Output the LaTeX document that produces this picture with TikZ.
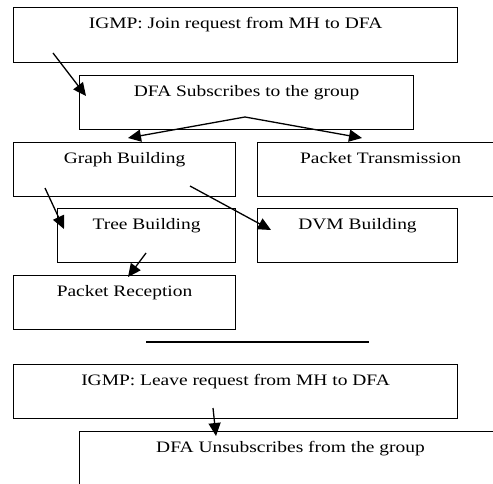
\documentclass[tikz,border=0pt]{standalone}
\usepackage{fontspec}
\setmainfont[FakeStretch=1.22]{Liberation Serif}
\usetikzlibrary{arrows.meta}

\begin{document}
\begin{tikzpicture}[x=1bp, y=-1bp,
	stage/.style={draw, line width=1.1bp, inner xsep=0pt, inner ysep=0pt, anchor=north west,
		text height=20.5bp, text depth=33.5bp, font=\fontsize{16}{18}\selectfont},
	flow/.style={-{Triangle[length=13bp,width=12bp]}, line width=1.3bp}]
	\useasboundingbox (0,0) rectangle (493,484);
	\clip (0,0) rectangle (493,484);
	\node[stage, minimum width=444bp, text depth=34.5bp] (join) at (13,7) {IGMP: Join request from MH to DFA};
	\node[stage, minimum width=334bp] (subscribe) at (79,75) {DFA Subscribes to the group};
	\node[stage, minimum width=222bp] (graph) at (13,142) {Graph Building};
	\node[stage, minimum width=246bp] (transmit) at (257,142) {Packet Transmission};
	\node[stage, minimum width=178bp] (tree) at (57,208) {Tree Building};
	\node[stage, minimum width=200bp] (dvm) at (257,208) {DVM Building};
	\node[stage, minimum width=222bp] (reception) at (13,275) {Packet Reception};
	\draw[line width=1.4bp] (146,342) -- (369,342);
	\node[stage, minimum width=444bp] (leave) at (13,364) {IGMP: Leave request from MH to DFA};
	\node[stage, minimum width=422bp, text depth=36bp] (unsub) at (79,431) {DFA Unsubscribes from the group};
	\draw[flow] ([shift={(40,46)}]join.north west) -- ([shift={(7,21)}]subscribe.north west);
	\draw[flow] ([shift={(166,42)}]subscribe.north west) -- ([shift={(115,-4)}]graph.north west);
	\draw[flow] ([shift={(166,42)}]subscribe.north west) -- ([shift={(105,-4)}]transmit.north west);
	\draw[flow] ([shift={(32,46)}]graph.north west) -- ([shift={(7,21)}]tree.north west);
	\draw[flow] ([shift={(177,44)}]graph.north west) -- ([shift={(14,22)}]dvm.north west);
	\draw[flow] ([shift={(89,45)}]tree.north west) -- ([shift={(115,2)}]reception.north west);
	\draw[flow] ([shift={(200,44)}]leave.north west) -- ([shift={(137,5)}]unsub.north west);
\end{tikzpicture}
\end{document}
